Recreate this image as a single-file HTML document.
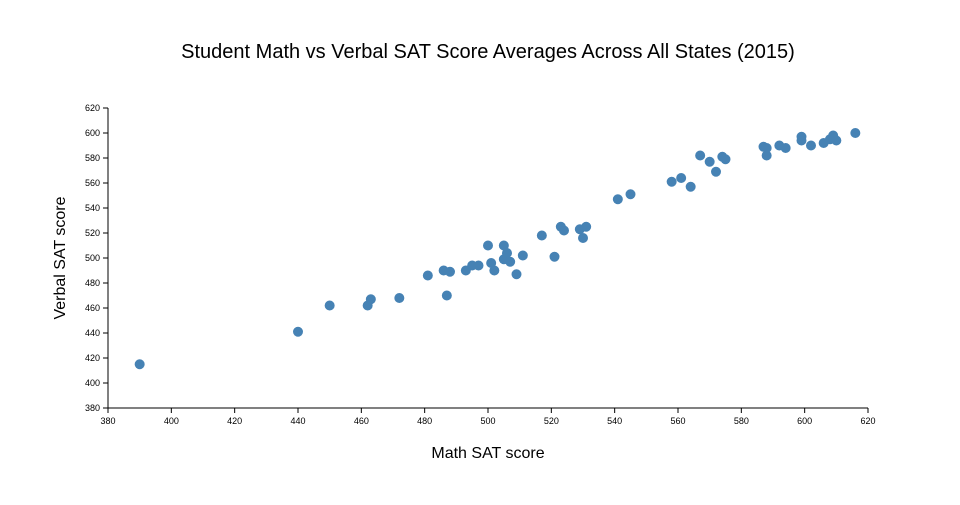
<!DOCTYPE html>
<html><head><meta charset="utf-8"><style>
body{margin:0;background:#fff;font-family:"Liberation Sans",sans-serif}
svg text{font-family:"Liberation Sans",sans-serif;fill:#000}
</style></head><body>
<svg id="chart" width="960" height="500" xmlns="http://www.w3.org/2000/svg">
<text x="488" y="58" text-anchor="middle" font-size="20">Student Math vs Verbal SAT Score Averages Across All States (2015)</text>
<g id="axes"></g>
<g id="points"></g>
<text x="488" y="458" text-anchor="middle" font-size="16">Math SAT score</text>
<text transform="translate(65,258) rotate(-90)" text-anchor="middle" font-size="16">Verbal SAT score</text>
</svg>
<script>
const mathScores=[390,440,450,462,463,472,481,486,488,487,493,495,497,500,501,502,505,505,506,507,509,511,517,521,523,524,529,531,530,541,545,558,561,564,567,570,572,574,575,587,588,588,592,594,599,599,602,606,608,609,610,616];
const verbalScores=[415,441,462,462,467,468,486,490,489,470,490,494,494,510,496,490,510,499,504,497,487,502,518,501,525,522,523,525,516,547,551,561,564,557,582,577,569,581,579,589,588,582,590,588,597,594,590,592,595,598,594,600];
const xTicks=[380,400,420,440,460,480,500,520,540,560,580,600,620];
const yTicks=[380,400,420,440,460,480,500,520,540,560,580,600,620];
const NS="http://www.w3.org/2000/svg";
const L=108,R=868,T=108,B=408;
const xs=v=>L+(v-380)/240*(R-L);
const ys=v=>B-(v-380)/240*(B-T);
const axes=document.getElementById('axes');
function mk(tag,attrs,parent){const e=document.createElementNS(NS,tag);for(const k in attrs)e.setAttribute(k,attrs[k]);parent.appendChild(e);return e;}
const xl=mk('line',{x1:L,x2:R,y1:B,y2:B,stroke:'#000','stroke-width':1},axes);


const yl=mk('line',{x1:L,x2:L,y1:T,y2:B,stroke:'#000','stroke-width':1},axes);


xTicks.forEach(t=>{
  mk('line',{x1:xs(t),x2:xs(t),y1:B,y2:B+5,stroke:'#000'},axes);
  const tx=mk('text',{x:xs(t),y:B+16,'text-anchor':'middle','font-size':9},axes);
  tx.textContent=t;
  
  
});
yTicks.forEach(t=>{
  mk('line',{x1:L-5,x2:L,y1:ys(t),y2:ys(t),stroke:'#000'},axes);
  const tx=mk('text',{x:L-8,y:ys(t)+3,'text-anchor':'end','font-size':9},axes);
  tx.textContent=t;
  
  
});
const pts=document.getElementById('points');
mathScores.forEach((m,i)=>{
  const c=mk('circle',{cx:xs(m),cy:ys(verbalScores[i]),r:5,fill:'#4682b4'},pts);
  
  
});
</script>
</body></html>
